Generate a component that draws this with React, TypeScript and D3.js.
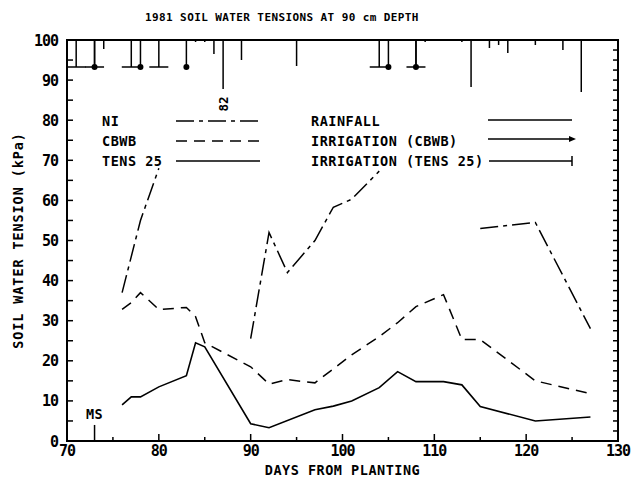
import React from 'react';
import * as d3 from 'd3';

// ---------- data ----------
const TITLE = '1981 SOIL WATER TENSIONS AT 90 cm DEPTH';
const X_LABEL = 'DAYS FROM PLANTING';
const Y_LABEL = 'SOIL WATER TENSION (kPa)';
const X_TICKS = [70, 80, 90, 100, 110, 120, 130];
const X_MINOR = [75, 85, 95, 105, 115, 125];
const Y_TICKS = [0, 10, 20, 30, 40, 50, 60, 70, 80, 90, 100];

const NI_DAYS = [76, 78, 80, 85, 90, 92, 94, 97, 99, 101, 104, 110, 115, 121, 127];
const NI_VALUES: (number | null)[] = [37, 55, 68, null, 25.5, 52, 42, 50, 58.3, 60.3, 67.3, null, 53, 54.5, 28];

const CBWB_DAYS = [76, 77, 78, 80, 83, 84, 85, 90, 92, 94, 97, 99, 101, 104, 106, 108, 111, 113, 115, 121, 127];
const CBWB_VALUES = [32.8, 34.5, 37, 32.8, 33.3, 31, 24.5, 18.5, 14.2, 15.3, 14.5, 18, 21.5, 26, 29.5, 33.5, 36.5, 25.3, 25.3, 15, 11.8];

const TENS_DAYS = [76, 77, 78, 80, 83, 84, 85, 90, 92, 97, 99, 101, 104, 106, 108, 111, 113, 115, 121, 127];
const TENS_VALUES = [9, 11, 11, 13.5, 16.3, 24.5, 23.5, 4.3, 3.3, 7.8, 8.7, 10, 13.3, 17.3, 14.8, 14.8, 14, 8.6, 5, 6];

const RAIN_DAYS = [74, 84, 85, 86, 87, 89, 95, 109, 113, 114, 116, 117, 118, 121, 124, 126];
const RAIN_MM = [9, 2, 2, 14, 49, 20, 26, 2, 2, 47, 8, 5, 13, 5, 10, 52];
const RAIN_NOTES = [{ day: 87, text: '82' }];

const IRR_TENS_DAYS = [71, 73, 77, 80, 104, 108];
const IRR_CBWB_DAYS = [73, 78, 83, 105, 108];
const IRR_MM = 27;

const MS_DAY = 73;

// ---------- layout ----------
const W = 632;
const H = 482;
const FONT = '"DejaVu Sans Mono", monospace';

export default function App() {
  const x = d3.scaleLinear().domain([70, 130]).range([67, 618]);
  const y = d3.scaleLinear().domain([0, 100]).range([441, 40]);
  const rain = d3.scaleLinear().domain([0, 100]).range([0, 100]);
  const top = y(100);
  const bottom = y(0);
  const left = x(70);
  const right = x(130);

  const line = d3
    .line<[number, number | null]>()
    .defined((d) => d[1] != null)
    .x((d) => x(d[0]))
    .y((d) => y(d[1] as number));

  const niPath = line(NI_DAYS.map((d, i) => [d, NI_VALUES[i]]));
  const cbwbPath = line(CBWB_DAYS.map((d, i) => [d, CBWB_VALUES[i]]));
  const tensPath = line(TENS_DAYS.map((d, i) => [d, TENS_VALUES[i]]));

  const yMinor = d3.range(5, 100, 5);
  const rightTicks = d3.range(2.5, 100, 2.5);

  const legendText = { fontFamily: FONT, fontWeight: 'bold' as const, fontSize: 13.5, letterSpacing: 0.5 };
  const leftRows = [
    { label: 'NI', dash: '18,5,4,5' },
    { label: 'CBWB', dash: '11,7' },
    { label: 'TENS 25', dash: null },
  ];
  const rightRows = ['RAINFALL', 'IRRIGATION (CBWB)', 'IRRIGATION (TENS 25)'];
  const rowY = [121, 141, 161];

  return (
    <svg width={W} height={H} style={{ position: 'absolute', left: 0, top: 0, background: '#fff' }}>
      <defs>
        <clipPath id="plot">
          <rect x={left} y={top} width={right - left} height={bottom - top} />
        </clipPath>
      </defs>
      <rect x={0} y={0} width={W} height={H} fill="#fff" />
      {/* title */}
      <text x={145} y={21} style={{ fontFamily: FONT, fontWeight: 'bold', fontSize: 11, letterSpacing: 0.4 }}>
        {TITLE}
      </text>

      {/* frame */}
      <rect x={left} y={top} width={right - left} height={bottom - top} fill="none" stroke="#000" strokeWidth={2} />

      {/* left ticks */}
      {yMinor.map((v) => (
        <line key={'yl' + v} x1={left} x2={left + 6} y1={y(v)} y2={y(v)} stroke="#000" strokeWidth={1.5} />
      ))}
      {Y_TICKS.map((v) => (
        <text key={'yt' + v} x={58} y={y(v) + 5.5} textAnchor="end"
          style={{ fontFamily: FONT, fontWeight: 'bold', fontSize: 15, letterSpacing: -1 }}>
          {v}
        </text>
      ))}
      {/* right ticks */}
      {rightTicks.map((v) => (
        <line key={'yr' + v} x1={right - 5} x2={right} y1={y(v)} y2={y(v)} stroke="#000" strokeWidth={1.5} />
      ))}
      {/* bottom ticks */}
      {X_TICKS.map((v) => (
        <line key={'xt' + v} x1={x(v)} x2={x(v)} y1={bottom} y2={bottom - 7} stroke="#000" strokeWidth={1.5} />
      ))}
      {X_MINOR.map((v) => (
        <line key={'xm' + v} x1={x(v)} x2={x(v)} y1={bottom} y2={bottom - 4} stroke="#000" strokeWidth={1.5} />
      ))}
      {X_TICKS.map((v) => (
        <text key={'xl' + v} x={x(v)} y={456} textAnchor="middle"
          style={{ fontFamily: FONT, fontWeight: 'bold', fontSize: 15, letterSpacing: -1 }}>
          {v}
        </text>
      ))}

      {/* axis titles */}
      <text x={(left + right) / 2} y={475} textAnchor="middle" style={legendText}>
        {X_LABEL}
      </text>
      <text transform={`translate(23,${y(50)}) rotate(-90)`} textAnchor="middle" style={{ ...legendText, letterSpacing: 0.9 }}>
        {Y_LABEL}
      </text>

      {/* MS marker */}
      <line x1={x(MS_DAY)} x2={x(MS_DAY)} y1={bottom} y2={y(4)} stroke="#000" strokeWidth={1.5} />
      <text x={x(MS_DAY)} y={419} textAnchor="middle" style={legendText}>MS</text>

      <g clipPath="url(#plot)">
        {/* rainfall */}
        {RAIN_DAYS.map((d, i) => (
          <line key={'r' + i} x1={x(d)} x2={x(d)} y1={top} y2={top + rain(RAIN_MM[i])} stroke="#000" strokeWidth={1.5} />
        ))}
        {/* irrigation TENS 25 */}
        {IRR_TENS_DAYS.map((d, i) => (
          <g key={'it' + i}>
            <line x1={x(d)} x2={x(d)} y1={top} y2={top + rain(IRR_MM)} stroke="#000" strokeWidth={1.5} />
            <line x1={x(d) - 9.5} x2={x(d) + 9.5} y1={top + rain(IRR_MM)} y2={top + rain(IRR_MM)} stroke="#000" strokeWidth={1.5} />
          </g>
        ))}
        {/* irrigation CBWB */}
        {IRR_CBWB_DAYS.map((d, i) => (
          <g key={'ic' + i}>
            <line x1={x(d)} x2={x(d)} y1={top} y2={top + rain(IRR_MM)} stroke="#000" strokeWidth={1.5} />
            <circle cx={x(d)} cy={top + rain(IRR_MM)} r={3} fill="#000" />
          </g>
        ))}
        {/* series */}
        <path d={niPath ?? ''} fill="none" stroke="#000" strokeWidth={1.5} strokeDasharray="18,5,4,5" />
        <path d={cbwbPath ?? ''} fill="none" stroke="#000" strokeWidth={1.5} strokeDasharray="11,7" />
        <path d={tensPath ?? ''} fill="none" stroke="#000" strokeWidth={1.6} />
      </g>

      {RAIN_NOTES.map((n, i) => (
        <text key={'n' + i} transform={`translate(${x(n.day) + 5},${104}) rotate(-90)`} textAnchor="middle"
          style={{ fontFamily: FONT, fontWeight: 'bold', fontSize: 12.5 }}>
          {n.text}
        </text>
      ))}

      {/* legend left */}
      {leftRows.map((r, i) => (
        <g key={'ll' + i}>
          <text x={102} y={rowY[i] + 5} style={legendText}>{r.label}</text>
          <line x1={176} x2={260} y1={rowY[i]} y2={rowY[i]} stroke="#000" strokeWidth={1.5}
            strokeDasharray={r.dash ?? undefined} />
        </g>
      ))}
      {/* legend right */}
      {rightRows.map((label, i) => (
        <text key={'lr' + i} x={311} y={rowY[i] + 5} style={legendText}>{label}</text>
      ))}
      <line x1={488} x2={572} y1={rowY[0] - 1} y2={rowY[0] - 1} stroke="#000" strokeWidth={1.5} />
      <line x1={488} x2={573} y1={rowY[1] - 2} y2={rowY[1] - 2} stroke="#000" strokeWidth={1.5} />
      <path d={`M${569},${rowY[1] - 5} L${576},${rowY[1] - 2} L${569},${rowY[1] + 1} Z`} fill="#000" />
      <line x1={489} x2={572} y1={rowY[2]} y2={rowY[2]} stroke="#000" strokeWidth={1.5} />
      <line x1={572} x2={572} y1={rowY[2] - 5} y2={rowY[2] + 5} stroke="#000" strokeWidth={1.5} />
    </svg>
  );
}
